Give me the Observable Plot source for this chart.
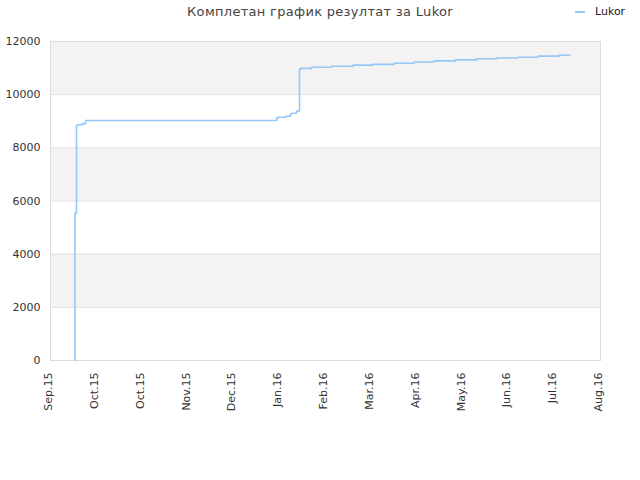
<!DOCTYPE html>
<html>
<head>
<meta charset="utf-8">
<script src="https://cdn.jsdelivr.net/npm/d3@7"></script>
<script src="https://cdn.jsdelivr.net/npm/@observablehq/plot@0.6"></script>
<style>
  html, body { margin: 0; padding: 0; background: #fff; }
  #wrap { position: relative; width: 640px; height: 480px; font-family: "DejaVu Sans", sans-serif; }
  #head { position: relative; height: 30px; }
  #title { position: absolute; left: 0; width: 640px; top: 4px; text-align: center; font-size: 13px; color: #444; letter-spacing: 0.3px; }
  #legend { position: absolute; left: 575px; top: 5px; font-size: 11px; color: #222; display: flex; align-items: center; }
  #legend .sw { width: 10px; height: 2px; background: #96c8f5; margin-right: 10px; }
</style>
</head>
<body>
<div id="wrap">
  <div id="head">
    <div id="title">Комплетан график резултат за Lukor</div>
    <div id="legend"><span class="sw"></span><span>Lukor</span></div>
  </div>
  <div id="chart"></div>
</div>
<script>
const seriesName = "Lukor";
const dates = ["2015-09-17","2015-09-17","2015-09-18","2015-09-18","2015-09-18","2015-09-19","2015-09-22","2015-09-24",
  "2016-01-27","2016-01-28","2016-02-02","2016-02-05","2016-02-06","2016-02-09","2016-02-11","2016-02-12","2016-02-19",
  "2016-03-03","2016-03-17","2016-03-30","2016-04-13","2016-04-26","2016-05-09","2016-05-23","2016-06-06","2016-06-19",
  "2016-07-03","2016-07-16","2016-07-30","2016-08-06"];
const values = [0,5550,5650,7900,8840,8870,8910,9030,
  9130,9150,9190,9270,9300,9380,10960,10990,11030,
  11070,11110,11140,11180,11230,11270,11310,11350,11380,
  11410,11450,11480,11480];
const xTickDates = ["2015-09-01","2015-10-01","2015-10-31","2015-11-30","2015-12-30","2016-01-29","2016-02-28",
  "2016-03-29","2016-04-28","2016-05-28","2016-06-27","2016-07-27","2016-08-26"];
const xTickLabels = ["Sep.15","Oct.15","Oct.15","Nov.15","Dec.15","Jan.16","Feb.16","Mar.16","Apr.16","May.16","Jun.16","Jul.16","Aug.16"];
const yTicks = [0,2000,4000,6000,8000,10000,12000];
const bandLows = [2000,6000,10000];

const parse = d3.utcParse("%Y-%m-%d");
const data = dates.map((d,i) => ({date: parse(d), value: values[i]}));
const tickDates = xTickDates.map(parse);
const bands = bandLows.map(v => ({y1: v, y2: v + 2000}));
const labelOf = new Map(tickDates.map((d,i) => [+d, xTickLabels[i]]));

const chart = Plot.plot({
  width: 640,
  height: 450,
  marginLeft: 50,
  marginRight: 40,
  marginTop: 11,
  marginBottom: 120,
  style: {fontFamily: "DejaVu Sans, sans-serif", fontSize: "11px", color: "#333", background: "#fff"},
  x: {type: "utc", domain: [tickDates[0], tickDates[tickDates.length-1]]},
  y: {domain: [0, 12000]},
  marks: [
    Plot.rectY(bands, {x1: tickDates[0], x2: tickDates[tickDates.length-1], y1: "y1", y2: "y2", fill: "#f3f3f3"}),
    Plot.ruleY(yTicks, {stroke: "#e0e0e0", strokeWidth: 1}),
    Plot.frame({stroke: "#dcdcdc", strokeWidth: 1}),
    Plot.line(data, {x: "date", y: "value", curve: "step-after", stroke: "#96c8f5", strokeWidth: 1.6}),
    Plot.axisY({ticks: yTicks, tickSize: 0, tickPadding: 10, label: null, fill: "#333", tickFormat: d3.format("d")}),
    Plot.axisX({ticks: tickDates, tickSize: 0, tickPadding: 12, tickRotate: -90, label: null, dx: -2,
      tickFormat: d => labelOf.get(+d), fill: "#333"})
  ]
});
document.getElementById("chart").appendChild(chart);
</script>
</body>
</html>
